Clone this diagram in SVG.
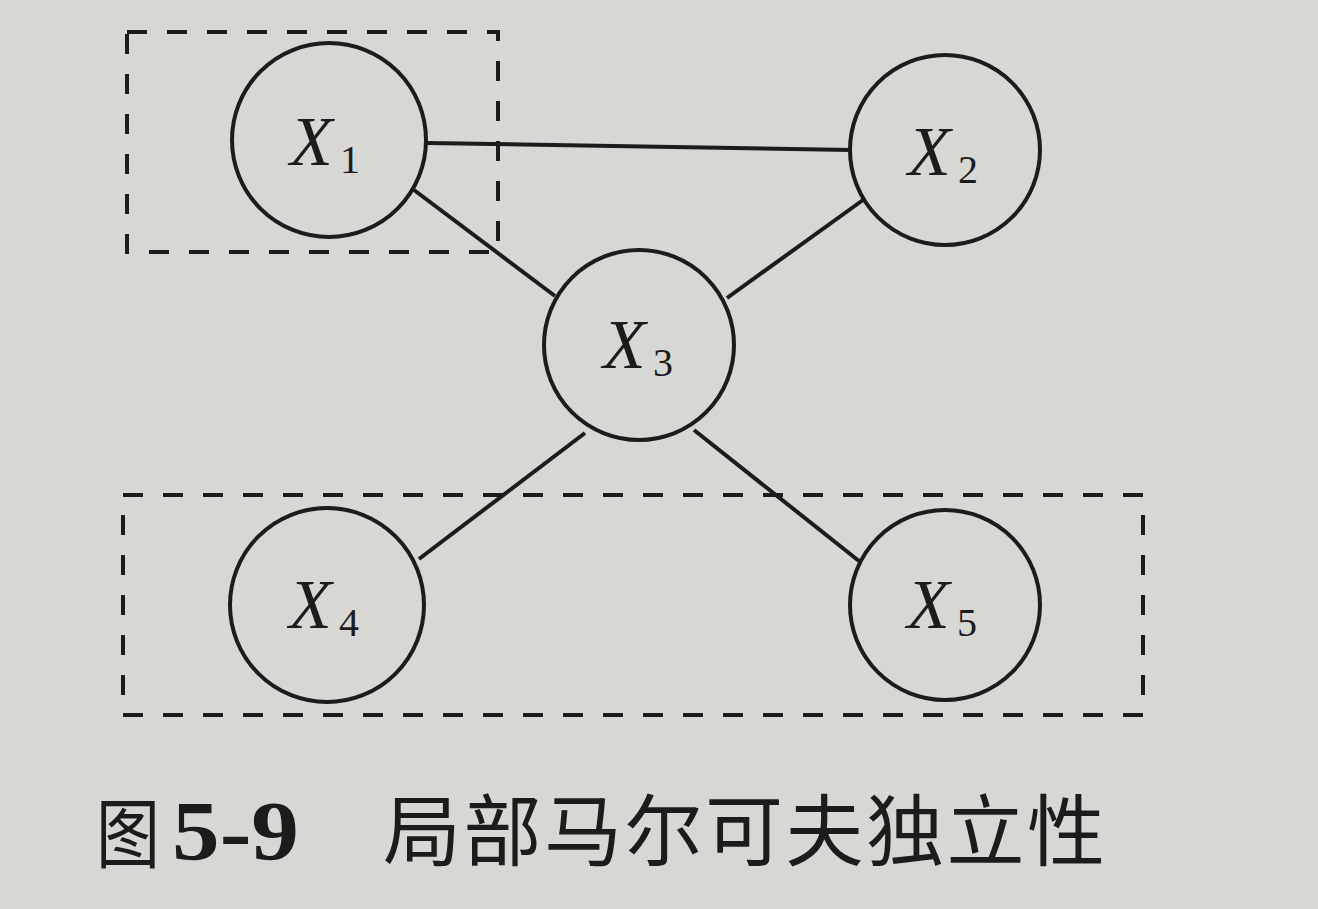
<svg xmlns="http://www.w3.org/2000/svg" width="1318" height="909" viewBox="0 0 1318 909">
<style>
.node{fill:none;stroke:#1c1c1c;stroke-width:4}
.edge{stroke:#1c1c1c;stroke-width:4}
.box{fill:none;stroke:#1c1c1c;stroke-width:4;stroke-dasharray:20 20}
.lbl{font-family:"Liberation Serif",serif;font-style:italic;font-size:70px;fill:#1c1c1c}
.sub{font-family:"Liberation Serif",serif;font-size:40px;fill:#1c1c1c}
.cap{font-family:"Liberation Sans","Noto Sans CJK SC",sans-serif;font-size:78px;fill:#1c1c1c}
</style>
<rect width="1318" height="909" fill="#d7d7d3"/>
<g id="boxes">
<rect class="box" x="127" y="32" width="371" height="220"/>
<rect class="box" x="123" y="495" width="1020" height="220"/>
</g>
<g id="connectors">
<line class="edge" x1="427" y1="143" x2="851" y2="150"/>
<line class="edge" x1="414" y1="190" x2="555" y2="296"/>
<line class="edge" x1="863" y1="200" x2="727" y2="298"/>
<line class="edge" x1="585" y1="433" x2="419" y2="559"/>
<line class="edge" x1="694" y1="430" x2="859" y2="561"/>
</g>
<g id="X1"><circle class="node" cx="329" cy="140" r="97"/><text class="lbl" x="290" y="165">X</text><text class="sub" x="340" y="173">1</text></g>
<g id="X2"><circle class="node" cx="945" cy="150" r="95"/><text class="lbl" x="908" y="175">X</text><text class="sub" x="958" y="183">2</text></g>
<g id="X3"><circle class="node" cx="639" cy="345" r="95"/><text class="lbl" x="603" y="368">X</text><text class="sub" x="653" y="376">3</text></g>
<g id="X4"><circle class="node" cx="327" cy="605" r="97"/><text class="lbl" x="289" y="628">X</text><text class="sub" x="339" y="636">4</text></g>
<g id="X5"><circle class="node" cx="945" cy="605" r="95"/><text class="lbl" x="907" y="628">X</text><text class="sub" x="957" y="636">5</text></g>
<g id="caption">
<text class="cap" x="96" y="862" textLength="64" lengthAdjust="spacingAndGlyphs" style="font-size:76px">图</text>
<text class="cap" x="172" y="860" textLength="127" lengthAdjust="spacingAndGlyphs" style="font-family:'Liberation Serif',serif;font-weight:bold;font-size:84px">5-9</text>
<text class="cap" x="383" y="860" textLength="722" lengthAdjust="spacing">局部马尔可夫独立性</text>
</g>
</svg>
